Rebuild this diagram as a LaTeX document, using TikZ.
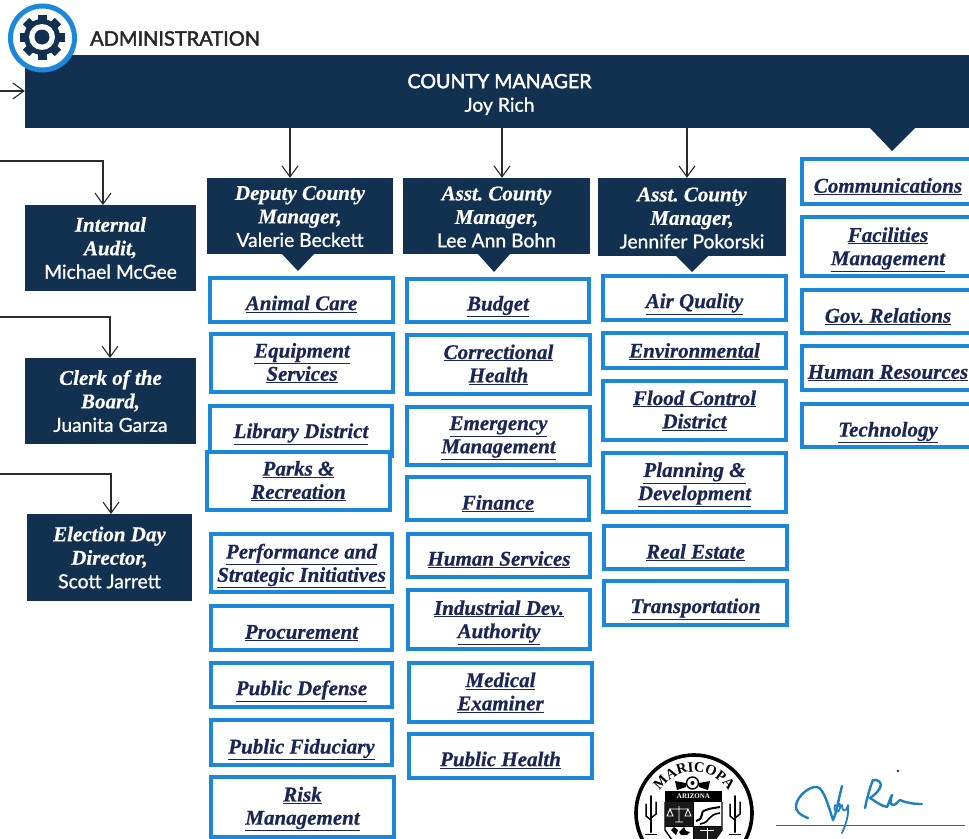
\documentclass[tikz,border=0pt]{standalone}
\usepackage{fontspec}
\setmainfont{Liberation Serif}[BoldItalicFeatures={FakeBold=0.6}]
\newfontfamily\namefont{Lato}[FakeBold=1.0]
\newfontfamily\headfont{Lato}[FakeBold=2.2]
\usetikzlibrary{arrows.meta,decorations.text}
\definecolor{navy}{HTML}{12304F}
\definecolor{edgeblue}{HTML}{1C88DC}
\definecolor{linktext}{HTML}{1A2756}
\definecolor{inkline}{HTML}{2A2A2A}
\definecolor{signblue}{HTML}{1F7FC4}
\tikzset{
  linkbox/.style={draw=edgeblue,line width=4.4pt,fill=white,inner sep=0pt},
  linklabel/.style={inner sep=0pt,align=center,text=linktext,
    font=\frenchspacing\bfseries\itshape\fontsize{21}{23.2}\selectfont},
  darkbox/.style={fill=navy,inner sep=0pt},
  darklabel/.style={inner sep=0pt,align=center,text=white,
    font=\frenchspacing\bfseries\itshape\fontsize{21}{23.5}\selectfont},
  flowline/.style={draw=inkline,line width=1.1pt,-{Straight Barb[length=11pt,width=16pt,line width=1.1pt]}},
  sig/.style={draw=signblue,line width=2.4pt,line cap=round,line join=round}
}
\newcommand{\pn}[1]{{\namefont\upshape\mdseries\fontsize{19.3}{23.5}\selectfont #1}}
\newcommand{\lk}[1]{\underline{#1}}
% \lbox[text shift]{name}{x1}{y1}{x2}{y2}{text}
\newcommand{\lbox}[7][0]{%
  \pgfmathsetmacro{\bw}{#5-#3-4.4}\pgfmathsetmacro{\bh}{#6-#4-4.4}%
  \node[linkbox,minimum width=\bw pt,minimum height=\bh pt] (#2) at ({(#3+#5)/2},{(#4+#6)/2}) {};
  \node[linklabel] (#2-text) at ({(#3+#5)/2},{(#4+#6)/2+#1}) {#7};}
\newcommand{\dbox}[7][0]{%
  \pgfmathsetmacro{\bw}{#5-#3}\pgfmathsetmacro{\bh}{#6-#4}%
  \node[darkbox,minimum width=\bw pt,minimum height=\bh pt] (#2) at ({(#3+#5)/2},{(#4+#6)/2}) {};
  \node[darklabel] (#2-text) at ({(#3+#5)/2},{(#4+#6)/2+#1}) {#7};}
\begin{document}
\begin{tikzpicture}[x=1pt,y=-1pt]
\useasboundingbox (0,0) rectangle (969,838);
\clip (0,0) rectangle (969,838);
\fill[white] (0,0) rectangle (969,838);
% header
\node[anchor=west,inner sep=0pt,text=black!85] (admin) at (90,38.5) {\headfont\fontsize{20}{24}\selectfont ADMINISTRATION};
\dbox[3]{mgr}{25}{55}{974}{128}{\headfont\upshape\mdseries\fontsize{19.6}{23.5}\selectfont COUNTY MANAGER\\\pn{Joy Rich}}
\fill[navy] (870,128) -- (915,128) -- (892,151) -- cycle;
% dark boxes
\dbox[0.5]{dep}{207}{178}{393}{254}{Deputy County\\Manager,\\\pn{Valerie Beckett}}
\dbox[1]{asst1}{403}{178}{590}{254}{Asst. County\\Manager,\\\pn{Lee Ann Bohn}}
\dbox[1]{asst2}{598}{178}{786}{256}{Asst. County\\Manager,\\\pn{Jennifer Pokorski}}
\fill[navy] (282,254) -- (314,254) -- (298,271) -- cycle;
\fill[navy] (478,254) -- (510,254) -- (494,272) -- cycle;
\fill[navy] (676,256) -- (708,256) -- (692,272) -- cycle;
\dbox{audit}{25}{205}{196}{291}{Internal\\Audit,\\\pn{Michael McGee}}
\dbox{clerk}{25}{358}{196}{444}{Clerk of the\\Board,\\\pn{Juanita Garza}}
\dbox{elect}{27}{514}{192}{601}{Election Day\\Director,\\\pn{Scott Jarrett}}
% connectors
\coordinate (inA) at (0,91);
\coordinate (inB) at (0,161);
\coordinate (inC) at (0,317);
\coordinate (inD) at (0,474);
\coordinate (xa) at (290,128);
\coordinate (xb) at (502,128);
\coordinate (xc) at (687,128);
\coordinate (xd) at (103,205);
\coordinate (xe) at (110,358);
\coordinate (xf) at (111,514);
\draw[flowline] (inA) -- (inA -| mgr.west);
\draw[flowline] (xa) -- (xa |- dep.north);
\draw[flowline] (xb) -- (xb |- asst1.north);
\draw[flowline] (xc) -- (xc |- asst2.north);
\draw[flowline] (inB) -| (xd);
\draw[flowline] (inC) -| (xe);
\draw[flowline] (inD) -| (xf);
% column 1
\lbox[4]{c1a}{208}{276}{395}{324}{\lk{Animal Care}}
\lbox{c1b}{209}{332}{395}{394}{\lk{Equipment}\\\lk{Services}}
\lbox[3]{c1c}{208}{404}{394}{458}{\lk{Library District}}
\lbox{c1d}{205}{450}{392}{512}{\lk{Parks \&}\\\lk{Recreation}}
\lbox[3]{c1e}{209}{532}{394}{594}{\lk{Performance and}\\\lk{Strategic Initiatives}}
\lbox[5]{c1f}{209}{604}{394}{652}{\lk{Procurement}}
\lbox[6]{c1g}{209}{661}{394}{709}{\lk{Public Defense}}
\lbox[7]{c1h}{209}{718}{394}{767}{\lk{Public Fiduciary}}
\lbox[2]{c1i}{209}{775}{396}{839}{\lk{Risk}\\\lk{Management}}
% column 2
\lbox[6]{c2a}{405}{277}{591}{324}{\lk{Budget}}
\lbox{c2b}{405}{333}{592}{396}{\lk{Correctional}\\\lk{Health}}
\lbox[2]{c2c}{405}{405}{592}{467}{\lk{Emergency}\\\lk{Management}}
\lbox[5]{c2d}{405}{475}{591}{522}{\lk{Finance}}
\lbox[4]{c2e}{406}{532}{592}{579}{\lk{Human Services}}
\lbox[3]{c2f}{406}{588}{592}{651}{\lk{Industrial Dev.}\\\lk{Authority}}
\lbox{c2g}{407}{661}{594}{724}{\lk{Medical}\\\lk{Examiner}}
\lbox[4]{c2h}{407}{732}{594}{780}{\lk{Public Health}}
% column 3
\lbox[6]{c3a}{601}{274}{788}{322}{\lk{Air Quality}}
\lbox[1]{c3b}{601}{331}{788}{370}{\lk{Environmental}}
\lbox{c3c}{601}{379}{788}{442}{\lk{Flood Control}\\\lk{District}}
\lbox[2]{c3d}{601}{451}{788}{514}{\lk{Planning \&}\\\lk{Development}}
\lbox[5]{c3e}{602}{524}{789}{571}{\lk{Real Estate}}
\lbox[6]{c3f}{602}{579}{789}{627}{\lk{Transportation}}
% column 4
\lbox[5]{c4a}{800}{157}{976}{206}{\lk{Communications}}
\lbox[3]{c4b}{800}{215}{976}{278}{\lk{Facilities}\\\lk{Management}}
\lbox[5]{c4c}{800}{288}{976}{335}{\lk{Gov. Relations}}
\lbox[5]{c4d}{800}{344}{976}{392}{\lk{Human Resources}}
\lbox[7]{c4e}{800}{402}{976}{449}{\lk{Technology}}
% gear badge
\draw[edgeblue,line width=5pt,fill=white] (42.5,38) circle[radius=32pt];
\foreach \a in {0,45,...,315}{
  \fill[navy,rotate around={\a:(42,37)}] (37.5,14.5) rectangle (46.5,30);
}
\fill[navy] (42,37) circle[radius=18pt];
\fill[white] (42,37) circle[radius=13pt];
\fill[navy] (42,37) circle[radius=7.5pt];
% seal
\draw[black,line width=3.6pt,fill=white] (694,813) circle[radius=58pt];
\path[decorate,decoration={text along path,text align=center,
   text={|\bfseries\fontsize{14.5}{16}\selectfont|MARICOPA}}]
   (658.9,791.9) arc[start angle=149,end angle=31,radius=41pt];
% shield
\fill[black] (665,791) rectangle (722,802);
\node[inner sep=0pt,text=white] (arizona) at (693.5,796.5) {\bfseries\fontsize{7}{8}\selectfont ARIZONA};
\draw[black,line width=1.4pt] (665,802) -- (665,830) -- (672,840) (722,802) -- (722,830) -- (715,840);
\fill[black!90] (665,802) rectangle (693,826);
\fill[black!90] (693,826) -- (722,826) -- (722,830) -- (715,840) -- (693,840) -- cycle;
\draw[black,line width=1pt] (693,802) -- (693,840) (665,826) -- (722,826);
\draw[white,line width=.9pt] (679,806) -- (679,822) (675,822) -- (683,822) (670,809) -- (688,809)
   (670,809) -- (667,816) -- (673,816) -- cycle (688,809) -- (685,816) -- (691,816) -- cycle;
\draw[black,line width=2pt] (696,821) .. controls (706,818) and (698,812) .. (706,810) .. controls (711,808) and (715,808) .. (720,807);
\draw[black,line width=1.6pt] (700,824) .. controls (712,822) and (706,815) .. (720,813);
\fill[black] (671,830) -- (674,827) -- (678,830) -- (676,835) -- cycle;
\fill[black] (684,827) -- (686,831) -- (690,832) -- (687,835) -- (681,835) -- (679,832) -- cycle;
\draw[white,line width=1pt] (707,828) -- (707,840) (700,830) -- (714,830);
% flower and scrolls
\fill[black] (675,781) -- (686,783) -- (686,787) -- (677,790) -- cycle;
\fill[black] (710,781) -- (699,783) -- (699,787) -- (708,790) -- cycle;
\draw[black,line width=1.4pt,fill=white] (692.5,783) circle[radius=6pt];
\fill[black] (692.5,783) circle[radius=2pt];
\foreach \cx in {651,735}{
  \draw[black,line width=2pt,line cap=round] (\cx,796) -- (\cx,832);
  \draw[black,line width=1.5pt,line cap=round] (\cx-5,804) -- (\cx-5,816) -- (\cx,820);
  \draw[black,line width=1.5pt,line cap=round] (\cx+5,802) -- (\cx+5,814) -- (\cx,818);
  \draw[black,line width=1pt] (\cx-6,834) -- (\cx+6,834);
}
% signature
\coordinate (sigL) at (776,825);
\coordinate (sigR) at (965,825);
\draw[black!65,line width=1pt] (sigL) -- (sigR);
\draw[sig] (808,818) .. controls (800,815) and (795,811) .. (796,805)
  .. controls (798,795) and (810,786) .. (817,787)
  .. controls (824,788) and (829,808) .. (833,820)
  .. controls (836,815) and (839,797) .. (842,786);
\draw[sig,line width=1.8pt] (835,805) .. controls (833,812) and (838,815) .. (840,808)
  .. controls (841,803) and (839,803) .. (838,806);
\draw[sig,line width=1.8pt] (842,805) .. controls (842,812) and (846,813) .. (848,805)
  .. controls (849,815) and (846,824) .. (842,833);
\draw[sig] (865,808) .. controls (867,798) and (870,787) .. (873,780)
  .. controls (878,779) and (883,783) .. (880,788)
  .. controls (877,793) and (873,796) .. (870,798)
  .. controls (875,801) and (881,806) .. (887,807)
  .. controls (889,803) and (890,798) .. (892,795)
  .. controls (890,800) and (890,805) .. (893,805)
  .. controls (896,805) and (898,801) .. (900,800)
  .. controls (906,803) and (914,804) .. (922,804);
\fill[black!80] (898,771) circle[radius=1.4pt];
\end{tikzpicture}
\end{document}
